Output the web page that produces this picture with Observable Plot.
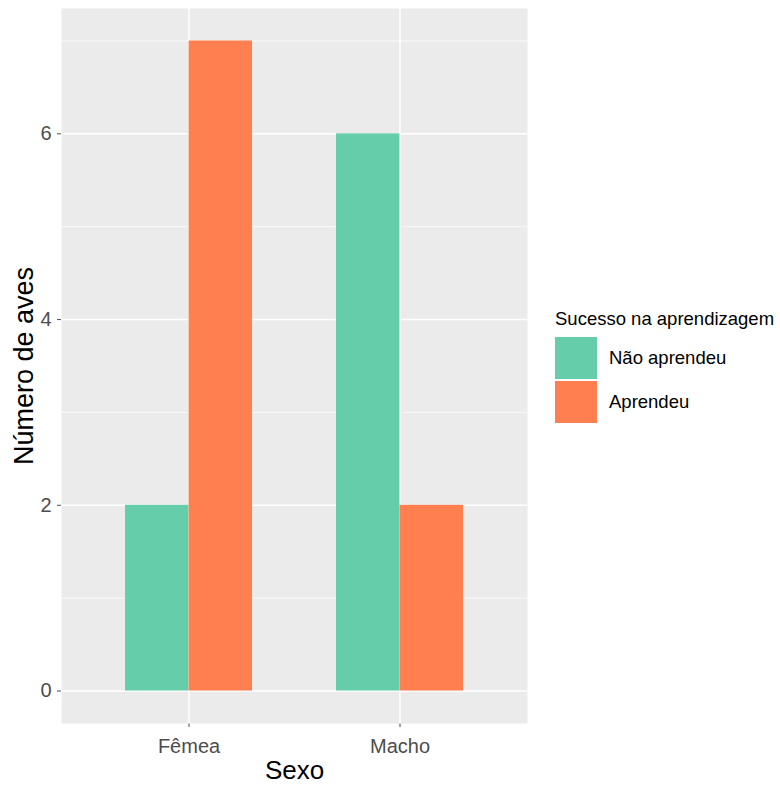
<!DOCTYPE html>
<html><head><meta charset="utf-8">
<script src="https://cdn.jsdelivr.net/npm/d3@7"></script>
<script src="https://cdn.jsdelivr.net/npm/@observablehq/plot@0.6"></script>
<style>
body{margin:0;background:#fff;font-family:"Liberation Sans",Arial,sans-serif}
#wrap{position:relative;width:780px;height:785px}
#legend{position:absolute;left:0;top:0;font-size:18.5px;color:#000}
#legend .title{position:absolute;left:555px;top:309px;height:20px;line-height:20px;white-space:nowrap}
#legend .row{position:absolute;left:555px;display:flex;align-items:center;height:42px;white-space:nowrap}
#legend .sw{width:42px;height:42px}
#legend .lab{margin-left:12px}
</style></head><body><div id="wrap"><div id="legend"></div></div>
<script>
const sexos = ["Fêmea", "Macho"];
const grupos = ["Não aprendeu", "Aprendeu"];
const naoAprendeu = [2, 6];
const aprendeu = [7, 2];
const cores = ["#66CDAA", "#FF7F50"];
const yTicks = [0, 2, 4, 6];
const yMinor = [1, 3, 5, 7];
const legendTitle = "Sucesso na aprendizagem";
const xTitle = "Sexo";
const yTitle = "Número de aves";

const data = sexos.flatMap((s, i) => [
  {sexo: s, grupo: grupos[0], n: naoAprendeu[i]},
  {sexo: s, grupo: grupos[1], n: aprendeu[i]}
]);

const half = 63.6;
const chart = Plot.plot({
  width: 780, height: 785,
  marginLeft: 61, marginRight: 253, marginTop: 8, marginBottom: 62,
  style: {fontFamily: '"Liberation Sans", Arial, sans-serif', fontSize: "20px", color: "#4D4D4D", background: "white"},
  x: {domain: sexos, paddingInner: 0.4, paddingOuter: 0.3, tickSize: 4, tickPadding: 11, label: null},
  y: {domain: [-0.35, 7.35], ticks: yTicks, tickSize: 4, tickPadding: 6, label: null},
  color: {domain: grupos, range: cores},
  marks: [
    Plot.frame({fill: "#EBEBEB", stroke: "none"}),
    Plot.ruleY(yMinor, {stroke: "white", strokeWidth: 0.75}),
    Plot.ruleY(yTicks, {stroke: "white", strokeWidth: 1.5}),
    Plot.ruleX(sexos, {x: d => d, stroke: "white", strokeWidth: 1.5}),
    Plot.barY(data.filter(d => d.grupo === grupos[0]), {x: "sexo", y: "n", fill: "grupo", insetRight: half}),
    Plot.barY(data.filter(d => d.grupo === grupos[1]), {x: "sexo", y: "n", fill: "grupo", insetLeft: half}),
    Plot.text([xTitle], {text: d => d, frameAnchor: "bottom", dy: 47, lineAnchor: "middle", fontSize: 26, fill: "black"}),
    Plot.text([yTitle], {text: d => d, frameAnchor: "left", dx: -37, rotate: -90, textAnchor: "middle", lineAnchor: "middle", fontSize: 27, fill: "black"})
  ]
});
document.getElementById("wrap").prepend(chart);

const leg = document.getElementById("legend");
const t = document.createElement("div"); t.className = "title"; t.textContent = legendTitle; leg.appendChild(t);
grupos.forEach((g, i) => {
  const r = document.createElement("div"); r.className = "row"; r.style.top = (337 + 44 * i) + "px";
  const sw = document.createElement("div"); sw.className = "sw"; sw.style.background = cores[i];
  const lb = document.createElement("div"); lb.className = "lab"; lb.textContent = g;
  r.appendChild(sw); r.appendChild(lb); leg.appendChild(r);
});
</script></body></html>
